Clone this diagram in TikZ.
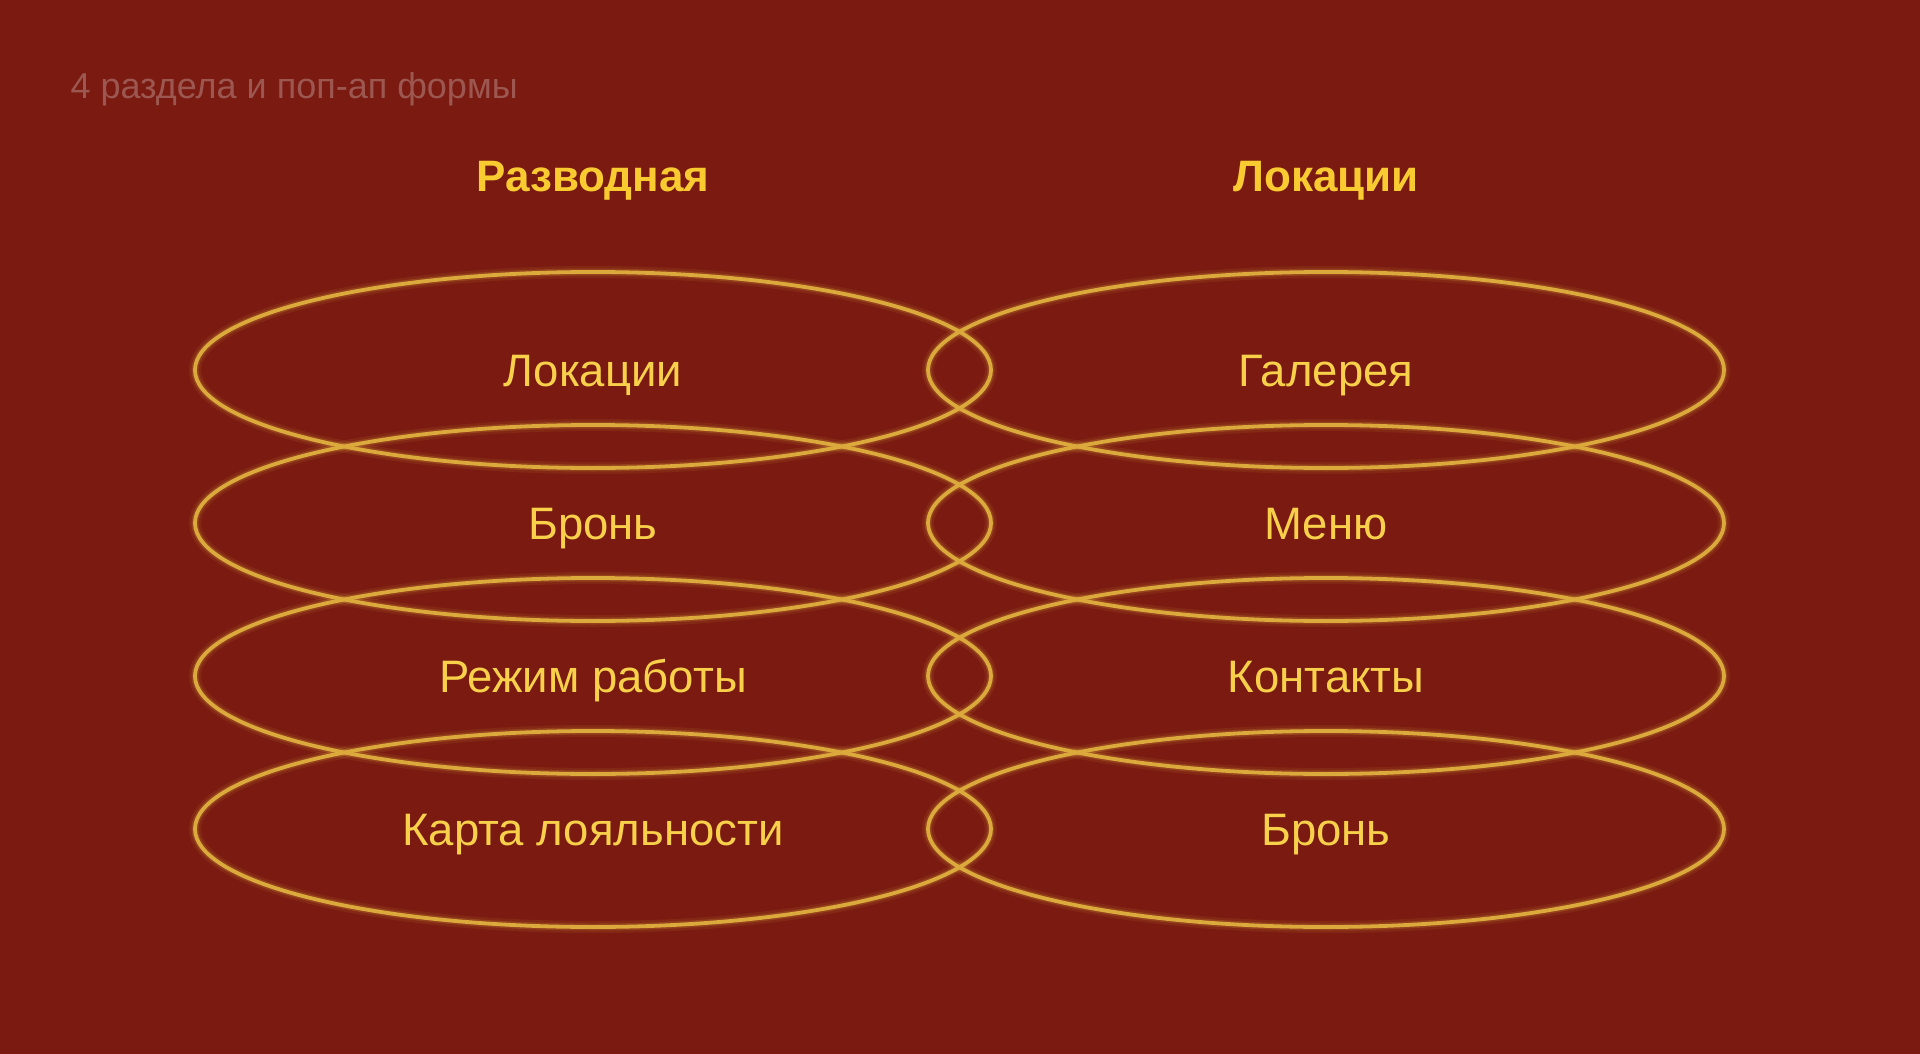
\documentclass[tikz,border=0pt]{standalone}
\usepackage{fontspec}
\setmainfont{Liberation Sans}
\usetikzlibrary{shapes.geometric}
\definecolor{bgred}{HTML}{7A1A11}
\definecolor{gold}{HTML}{DCA93C}
\definecolor{txty}{HTML}{F8D04A}
\definecolor{hdry}{HTML}{F9CB30}
\definecolor{ttl}{HTML}{9C5850}
\tikzset{
  oval/.style={ellipse, minimum width=796pt, minimum height=196pt, inner sep=0pt},
  ovalglowa/.style={oval, draw=gold, draw opacity=0.10, line width=12pt},
  ovalglowb/.style={oval, draw=gold, draw opacity=0.20, line width=7pt},
  ovalline/.style={oval, draw=gold, line width=3.8pt},
  lbl/.style={text=txty, anchor=base, font=\fontsize{45.5}{52}\selectfont},
  hdr/.style={text=hdry, anchor=base, font=\fontsize{44}{50}\selectfont\bfseries},
}
\begin{document}
\begin{tikzpicture}[x=1pt,y=-1pt]
\fill[bgred] (0,0) rectangle (1920,1054);
\useasboundingbox (0,0) rectangle (1920,1054);
\node[anchor=base west, text=ttl, font=\fontsize{36}{42}\selectfont] (title) at (67,99) {4 раздела и поп-ап формы};
\node[hdr] (h1) at (593,191) {Разводная};
\node[hdr] (h2) at (1326,191) {Локации};
% glow layers
\foreach \x/\n in {593/l,1326/r}{
  \foreach \y/\k in {370/1,523/2,676/3,829/4}{
    \node[ovalglowa] (ga\n\k) at (\x,\y) {};
    \node[ovalglowb] (gb\n\k) at (\x,\y) {};
  }
}
% lines and labels
\node[ovalline] (l1) at (593,370) {};
\node[ovalline] (l2) at (593,523) {};
\node[ovalline] (l3) at (593,676) {};
\node[ovalline] (l4) at (593,829) {};
\node[ovalline] (r1) at (1326,370) {};
\node[ovalline] (r2) at (1326,523) {};
\node[ovalline] (r3) at (1326,676) {};
\node[ovalline] (r4) at (1326,829) {};
\node[lbl] (tl1) at ([yshift=-16pt]l1.center) {Локации};
\node[lbl] (tl2) at ([yshift=-16pt]l2.center) {Бронь};
\node[lbl] (tl3) at ([yshift=-16pt]l3.center) {Режим работы};
\node[lbl] (tl4) at ([yshift=-16pt]l4.center) {Карта лояльности};
\node[lbl] (tr1) at ([yshift=-16pt]r1.center) {Галерея};
\node[lbl] (tr2) at ([yshift=-16pt]r2.center) {Меню};
\node[lbl] (tr3) at ([yshift=-16pt]r3.center) {Контакты};
\node[lbl] (tr4) at ([yshift=-16pt]r4.center) {Бронь};
\end{tikzpicture}
\end{document}
